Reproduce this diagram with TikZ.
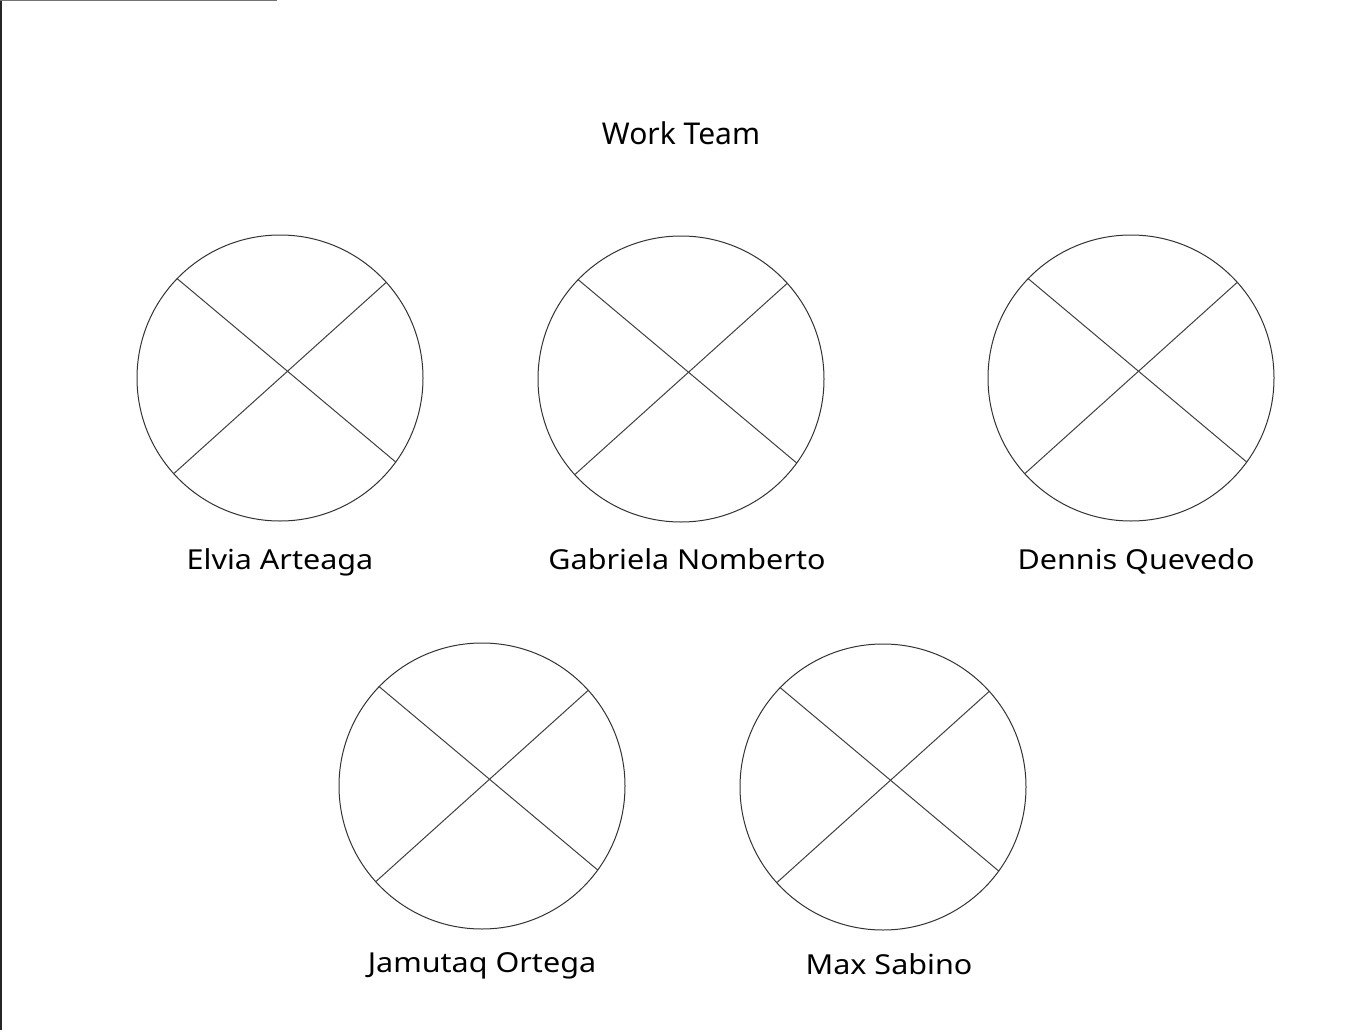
\documentclass[tikz,border=0pt]{standalone}
\usepackage{fontspec}
\setmainfont{Noto Sans}
\newfontfamily\namefont[FakeStretch=1.11]{Noto Sans}
\begin{document}
\begin{tikzpicture}[x=1pt,y=-1pt,
  seat/.style={circle,draw=black!80,line width=1pt,minimum size=286pt,inner sep=0pt},
  chord/.style={draw=black!75,line width=1pt},
  personlbl/.style={anchor=base,inner sep=0pt,font=\namefont\fontsize{27.5}{30}\selectfont},
  headlbl/.style={anchor=base,inner sep=0pt,font=\fontsize{30}{34}\selectfont}]
\useasboundingbox (0,0) rectangle (1371,1030);
\fill[white] (0,0) rectangle (1371,1030);
\draw[black!85,line width=2pt] (1,0) -- (1,1030);
\draw[black!55,line width=1.5pt] (0,0.5) -- (277,0.5);
\node[headlbl] (t) at (681,145) {Work Team};
\foreach \n/\x/\y in {c1/280/378, c2/681/379, c3/1131/378, c4/482/786, c5/883/787}{
  \node[seat] (\n) at (\x,\y) {};
  \draw[chord] (\n.136.5) -- (\n.-36.2);
  \draw[chord] (\n.42.4) -- (\n.222.7);
}
\node[personlbl] (n1) at (280,569) {Elvia Arteaga};
\node[personlbl] (n2) at (687,569) {Gabriela Nomberto};
\node[personlbl] (n3) at (1136,569) {Dennis Quevedo};
\node[personlbl] (n4) at (482,972) {Jamutaq Ortega};
\node[personlbl] (n5) at (889,974) {Max Sabino};
\end{tikzpicture}
\end{document}
